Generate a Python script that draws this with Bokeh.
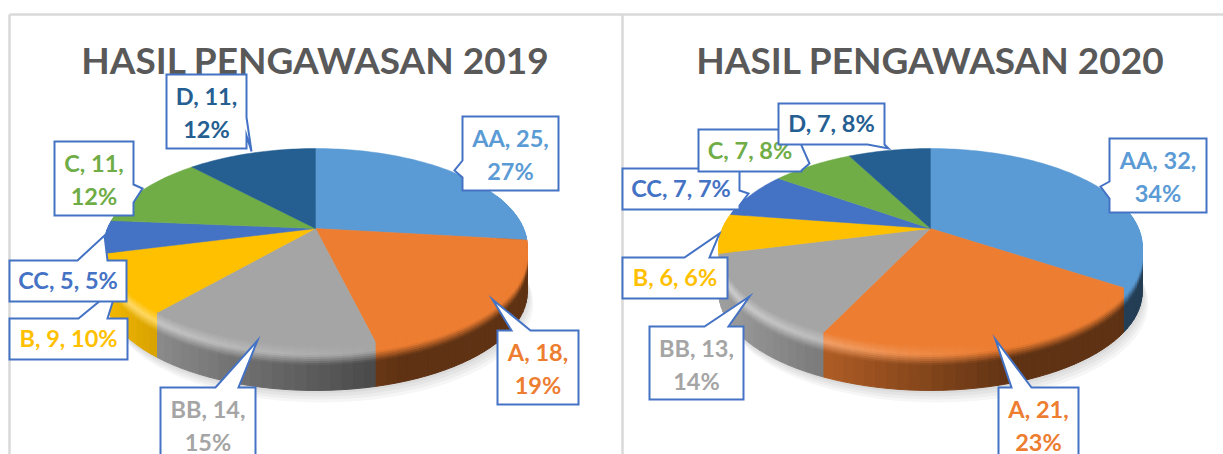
import numpy as np
from bokeh.plotting import figure
from bokeh.models import Range1d
from bokeh.embed import file_html
from bokeh.resources import INLINE
from bokeh.core.properties import value

# ---- data
categories = ["AA", "A", "BB", "B", "CC", "C", "D"]
values_2019 = [25, 18, 14, 9, 5, 11, 11]
percent_2019 = [27, 19, 15, 10, 5, 12, 12]
values_2020 = [32, 21, 13, 6, 7, 7, 7]
percent_2020 = [34, 23, 14, 6, 7, 8, 8]
titles = ["HASIL PENGAWASAN 2019", "HASIL PENGAWASAN 2020"]
colors = ["#5b9bd5", "#ed7d31", "#a5a5a5", "#ffc000", "#4472c4", "#70ad47", "#255e91"]

# ---- layout (page pixels)
W, H = 1223, 454
OX, OY = 0, 0
CENTERS = [315, 930]
CY = 228
B_, A_, K = 208.0, 95.0, 0.1878
DEPTH = 45
FONT = value("Lato")
BORDER = "#4472c4"

callouts_2019 = {
    "B":  ((9, 318, 127, 359), ("top", 78, 107, 117, 286), 1),
    "D":  ((166, 74, 246, 148), ("right", 117, 135, 251, 151), 2),
    "C":  ((54, 141, 133, 215), ("right", 184, 202, 142, 188), 2),
    "CC": ((9, 260, 126, 301), ("top", 77, 107, 104, 235), 1),
    "BB": ((160, 387, 255, 461), ("top", 215, 238, 257, 340), 2),
    "A":  ((497, 330, 578, 404), ("top", 511, 530, 492, 299), 2),
    "AA": ((462, 116, 558, 190), ("left", 160, 177, 454, 170), 2),
}
callouts_2020 = {
    "CC": ((622, 168, 739, 209), ("right", 190, 205, 748, 193), 1),
    "C":  ((698, 129, 801, 171), ("right", 145, 170, 809, 163), 1),
    "D":  ((778, 103, 884, 144), ("bottom", 867, 884, 888, 148), 1),
    "B":  ((622, 257, 727, 298), ("top", 684, 709, 719, 233), 1),
    "BB": ((649, 326, 743, 399), ("top", 704, 728, 749, 296), 2),
    "A":  ((998, 387, 1078, 461), ("top", 1011, 1031, 995, 339), 2),
    "AA": ((1109, 138, 1206, 212), ("left", 181, 198, 1100, 186), 2),
}


def project(theta, cx):
    u, v = np.sin(theta), -np.cos(theta)
    d = 1 - K * v
    return cx + B_ * u / d, CY + A_ * v / d


def hexrgb(c):
    return np.array([int(c[i:i + 2], 16) for i in (1, 3, 5)], dtype=float)


def tohex(a):
    a = np.clip(a, 0, 255).round().astype(int)
    return "#%02x%02x%02x" % tuple(a)


def side_colour(base, u, d):
    base = hexrgb(base)
    s = float(np.clip(0.40 + (0.33 - u) * 0.45, 0.40, 0.95))
    side = base * s
    hl = max(0.0, min(1.0, (0.25 - u) * 0.9)) * 0.45
    light = base + (255 - base) * hl if hl > 0 else base
    if d <= 10:
        t = d / 10
        return tohex(base * (1 - t) + light * t)
    if d <= 20:
        t = (d - 10) / 10
        return tohex(light * (1 - t) + side * t)
    return tohex(side)


p = figure(width=W, height=H, x_range=Range1d(OX, OX + W), y_range=Range1d(OY + H, OY),
           x_axis_type=None, y_axis_type=None, toolbar_location=None,
           output_backend="svg", min_border=0, outline_line_color=None,
           background_fill_color="white", border_fill_color="white")
p.grid.visible = False

p.segment([9, 9, 622], [14, 14, 14], [1223, 9, 622], [14, 454, 454], line_color="#d9d9d9", line_width=2.5)

LEVELS = [0, 2, 4, 6, 8, 10, 12, 14, 16, 18, 20, 23, DEPTH]


def draw_pie(vals, cx):
    vals = np.array(vals, dtype=float)
    edges = np.concatenate([[0], np.cumsum(vals)]) / vals.sum() * 2 * np.pi
    th = np.linspace(0, 2 * np.pi, 240)
    sx, sy = project(th, cx)
    for off in (12, 9, 6, 3):
        p.patch(sx + off * 0.5, sy + DEPTH + off, fill_color="#000000", fill_alpha=0.035, line_color=None)
    xs, ys, fc = [], [], []
    segs = []
    for i in range(len(vals)):
        n = max(2, int((edges[i + 1] - edges[i]) / np.radians(2.5)))
        t = np.linspace(edges[i], edges[i + 1], n + 1)
        for a, b in zip(t[:-1], t[1:]):
            m = (a + b) / 2
            if -np.cos(m) > -0.35:
                segs.append((-np.cos(m), a, b, i))
    segs.sort(key=lambda r: r[0])
    for _, a, b, i in segs:
        xa, ya = project(a, cx)
        xb, yb = project(b, cx)
        u = np.sin((a + b) / 2)
        for d0, d1 in zip(LEVELS[:-1], LEVELS[1:]):
            xs.append([xa, xb, xb, xa])
            ys.append([ya + d0, yb + d0, yb + d1, ya + d1])
            fc.append(side_colour(colors[i], u, (d0 + d1) / 2))
    p.patches(xs, ys, fill_color=fc, line_color=fc, line_width=1)
    xs, ys, fc = [], [], []
    for i in range(len(vals)):
        n = max(8, int((edges[i + 1] - edges[i]) / np.radians(1.5)))
        t = np.linspace(edges[i], edges[i + 1], n + 1)
        x, y = project(t, cx)
        xs.append([cx] + list(x))
        ys.append([CY] + list(y))
        fc.append(colors[i])
    p.patches(xs, ys, fill_color=fc, line_color=fc, line_width=0.5)


def callout_polygon(box, ptr):
    l, t, r, b = box
    side, a0, a1, tx, ty = ptr
    if side == "top":
        return [l, a0, tx, a1, r, r, l], [t, t, ty, t, t, b, b]
    if side == "right":
        return [l, r, r, tx, r, r, l], [t, t, a0, ty, a1, b, b]
    if side == "left":
        return [l, r, r, l, l, tx, l], [t, t, b, b, a1, ty, a0]
    return [l, r, r, a1, tx, a0, l], [t, t, b, b, ty, b, b]


def draw_callouts(vals, pcts, layout):
    for cat, (box, ptr, lines) in layout.items():
        i = categories.index(cat)
        px, py = callout_polygon(box, ptr)
        p.patch(px, py, fill_color="white", line_color=BORDER, line_width=2, line_join="miter")
        l, t, r, b = box
        mx, my = (l + r) / 2, (t + b) / 2
        if lines == 1:
            rows = [f"{cat}, {vals[i]}, {pcts[i]}%"]
            ypos = [my - 1]
        else:
            rows = [f"{cat}, {vals[i]},", f"{pcts[i]}%"]
            ypos = [t + 21, t + 54]
        p.text(x=[mx] * len(rows), y=ypos, text=rows, text_font=FONT, text_font_style="bold",
               text_font_size="23.5px", text_color=colors[i], text_align="center", text_baseline="middle")


draw_pie(values_2019, CENTERS[0])
draw_pie(values_2020, CENTERS[1])

for cx, title in zip(CENTERS, titles):
    p.text(x=[cx], y=[59], text=[title], text_font=FONT, text_font_style="bold",
           text_font_size="37px", text_color="#595959", text_align="center", text_baseline="middle")

draw_callouts(values_2019, percent_2019, callouts_2019)
draw_callouts(values_2020, percent_2020, callouts_2020)

open("out.html", "w").write(file_html(p, INLINE))
